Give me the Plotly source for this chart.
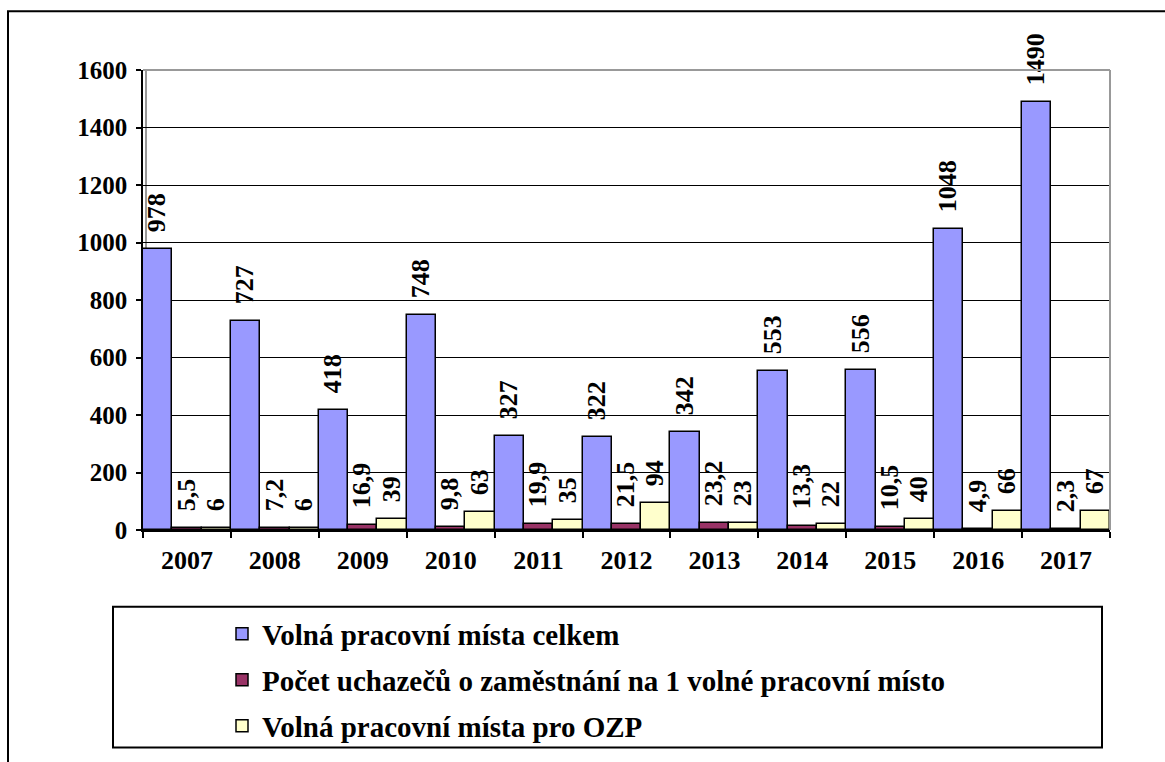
import plotly.graph_objects as go

# ---- data -------------------------------------------------------------
years = ["2007", "2008", "2009", "2010", "2011", "2012",
         "2013", "2014", "2015", "2016", "2017"]
volna_mista_celkem = [978, 727, 418, 748, 327, 322, 342, 553, 556, 1048, 1490]
uchazeci_na_misto = [5.5, 7.2, 16.9, 9.8, 19.9, 21.5, 23.2, 13.3, 10.5, 4.9, 2.3]
volna_mista_ozp = [6, 6, 39, 63, 35, 94, 23, 22, 40, 66, 67]

series_names = [
    "Volná pracovní místa celkem",
    "Počet uchazečů o zaměstnání na 1 volné pracovní místo",
    "Volná pracovní místa pro OZP",
]
y_ticks = [0, 200, 400, 600, 800, 1000, 1200, 1400, 1600]

# ---- styling ----------------------------------------------------------
FONT = "Liberation Serif, Times New Roman, serif"
colors = ["#9999FF", "#993366", "#FFFFCC"]
NB = "\u00a0\u00a0"


def label(v):
    return NB + f"{v:g}".replace(".", ",")


# plot area geometry (pixels) used to convert decorative frame positions
L, R, T, B = 143, 1110, 70, 531
W, H = 1165, 762


def px_x(p):
    return (p - L) / (R - L)


def px_y(p):
    return (B - p) / (B - T)


fig = go.Figure()
all_values = [volna_mista_celkem, uchazeci_na_misto, volna_mista_ozp]
legend_ids = ["legend", "legend2", "legend3"]
for name, vals, col, lid in zip(series_names, all_values, colors, legend_ids):
    fig.add_trace(go.Bar(
        x=years, y=vals, name=name,
        marker=dict(color=col, line=dict(color="black", width=1.5)),
        text=[label(v) for v in vals],
        textposition="outside",
        textangle=-90,
        constraintext="none",
        cliponaxis=False,
        textfont=dict(family=FONT, size=26, color="black", weight="bold"),
        legend=lid,
        showlegend=True,
        hoverinfo="skip",
    ))

legend_rows = [634, 680, 726]
legend_common = dict(
    x=px_x(222), xanchor="left", yanchor="middle",
    bgcolor="rgba(0,0,0,0)", borderwidth=0,
    font=dict(family=FONT, size=29, color="black", weight="bold"),
)

shapes = [
    # outer frame
    dict(type="rect", xref="paper", yref="paper",
         x0=px_x(8), x1=px_x(1180), y0=px_y(780), y1=px_y(11),
         line=dict(color="black", width=2), layer="above"),
    # legend box
    dict(type="rect", xref="paper", yref="paper",
         x0=px_x(113), x1=px_x(1102), y0=px_y(749), y1=px_y(608),
         line=dict(color="black", width=2), layer="above"),
    # wall edges (grey)
    dict(type="line", xref="paper", yref="paper", x0=0, x1=1, y0=1, y1=1,
         line=dict(color="#999999", width=2), layer="above"),
    dict(type="line", xref="paper", yref="paper", x0=1, x1=1, y0=0, y1=1,
         line=dict(color="#999999", width=2), layer="above"),
    dict(type="line", xref="paper", yref="paper", x0=px_x(146), x1=px_x(146),
         y0=0, y1=1, line=dict(color="#999999", width=2), layer="below"),
]

fig.update_layout(
    width=W, height=H,
    margin=dict(l=L, r=W - R, t=T, b=H - B, pad=0),
    paper_bgcolor="white", plot_bgcolor="white",
    barmode="group", bargap=0.0, bargroupgap=0.0,
    font=dict(family=FONT, color="black"),
    showlegend=True,
    shapes=shapes,
    legend=dict(y=px_y(legend_rows[0]), **legend_common),
    legend2=dict(y=px_y(legend_rows[1]), **legend_common),
    legend3=dict(y=px_y(legend_rows[2]), **legend_common),
    xaxis=dict(
        type="category", showline=True, linecolor="black", linewidth=1.5,
        ticks="outside", tickson="boundaries", ticklen=6, tickcolor="black",
        tickwidth=1.5, showgrid=False, ticklabelstandoff=6,
        tickfont=dict(family=FONT, size=26, color="black", weight="bold"),
    ),
    yaxis=dict(
        range=[0, 1600], tickvals=y_ticks, showgrid=True, gridcolor="black",
        gridwidth=1, zeroline=False, showline=True, linecolor="black",
        linewidth=1.5, ticks="outside", ticklen=5, tickcolor="black",
        tickwidth=1.5, ticklabelstandoff=4,
        tickfont=dict(family=FONT, size=25, color="black", weight="bold"),
    ),
)

fig.write_html(
    "out.html",
    config={"displayModeBar": False},
    post_script="document.body.style.margin='0';document.body.style.overflow='hidden';",
)
